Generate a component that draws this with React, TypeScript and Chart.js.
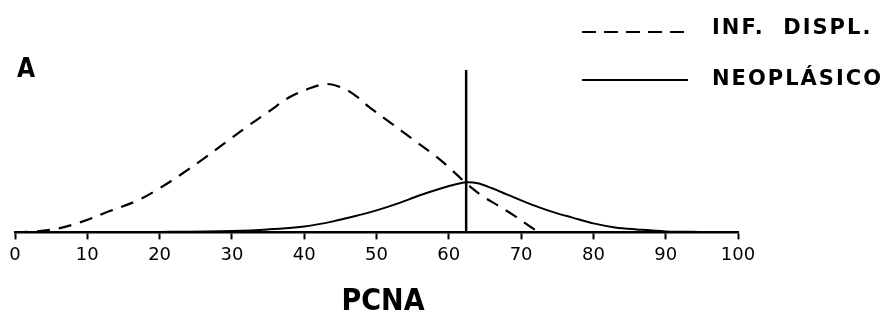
import React, { useEffect, useRef } from "react";
import { Chart, registerables } from "chart.js";

Chart.register(...registerables);

// PCNA distribution curves (x = PCNA %, y = relative frequency, arbitrary units)
const xTicks = [0, 10, 20, 30, 40, 50, 60, 70, 80, 90, 100];

const infDisplX = [0, 3, 6, 9, 13, 17, 20, 23, 26, 29, 32, 35, 38, 40.5, 43, 45, 47, 49, 52, 55, 58, 60, 62.4, 64.7, 67, 69, 71, 72.5];
const infDisplY = [0, 1, 4, 10, 21, 32, 44, 58, 73, 89, 105, 120, 135, 143, 148, 145, 137, 125, 109, 93, 77, 65, 49, 36, 26, 17, 7, 0];

const neoX = [0, 10, 20, 30, 35, 40, 44, 48, 50, 53, 56, 59, 61, 62.4, 64, 66, 68, 70, 72.5, 75, 77, 80, 83, 86, 90, 95, 100];
const neoY = [0, 0, 0.5, 1.5, 3, 6, 11, 18, 22, 29, 37, 44, 48, 50, 49, 44, 38, 32, 25, 19, 15, 9, 5, 3, 1, 0.5, 0];

const cutoffX = 62.4;
const cutoffTop = 162;

const legendLabels = ["INF.  DISPL.", "NEOPLÁSICO"];
const panelLabel = "A";
const axisTitle = "PCNA";

const toPts = (xs: number[], ys: number[]) => xs.map((x, i) => ({ x, y: ys[i] }));

const textPlugin = {
  id: "textPlugin",
  afterDraw(chart: any) {
    const ctx = chart.ctx as CanvasRenderingContext2D;
    ctx.save();
    ctx.fillStyle = "#000";
    ctx.strokeStyle = "#000";
    // panel letter
    ctx.font = "bold 26px 'DejaVu Sans Condensed'";
    ctx.textBaseline = "alphabetic";
    ctx.textAlign = "left";
    ctx.fillText(panelLabel, 17, 77);
    // legend
    ctx.lineWidth = 2;
    ctx.setLineDash([14, 8]);
    ctx.beginPath();
    ctx.moveTo(582, 32);
    ctx.lineTo(688, 32);
    ctx.stroke();
    ctx.setLineDash([]);
    ctx.beginPath();
    ctx.moveTo(582, 80);
    ctx.lineTo(688, 80);
    ctx.stroke();
    ctx.font = "bold 21px 'DejaVu Sans'";
    (ctx as any).letterSpacing = "2px";
    ctx.textBaseline = "middle";
    ctx.fillText(legendLabels[0], 712, 29);
    ctx.fillText(legendLabels[1], 712, 80);
    (ctx as any).letterSpacing = "0px";
    // axis title
    ctx.font = "bold 30px 'DejaVu Sans Condensed'";
    ctx.textAlign = "center";
    ctx.textBaseline = "middle";
    ctx.fillText(axisTitle, 383, 302);
    ctx.restore();
  },
};

export default function App() {
  const ref = useRef<HTMLCanvasElement | null>(null);
  useEffect(() => {
    if (!ref.current) return;
    const chart = new Chart(ref.current, {
      type: "line",
      data: {
        datasets: [
          {
            label: legendLabels[0],
            data: toPts(infDisplX, infDisplY),
            borderColor: "#000",
            borderWidth: 2.2,
            borderDash: [13, 9],
            pointRadius: 0,
            tension: 0.35,
            fill: false,
          },
          {
            label: legendLabels[1],
            data: toPts(neoX, neoY),
            borderColor: "#000",
            borderWidth: 2,
            pointRadius: 0,
            tension: 0.35,
            fill: false,
          },
          {
            label: "cutoff",
            data: [
              { x: cutoffX, y: 0 },
              { x: cutoffX, y: cutoffTop },
            ],
            borderColor: "#000",
            borderWidth: 2.5,
            pointRadius: 0,
            tension: 0,
            fill: false,
          },
        ],
      },
      options: {
        responsive: false,
        animation: false,
        layout: { padding: { left: 15, right: 154, top: 70, bottom: 56 } },
        plugins: { legend: { display: false }, tooltip: { enabled: false } },
        scales: {
          x: {
            type: "linear",
            min: 0,
            max: 100,
            afterBuildTicks: (axis: any) => {
              axis.ticks = xTicks.map((v) => ({ value: v }));
            },
            border: { display: true, color: "#000", width: 2.5 },
            grid: {
              drawOnChartArea: false,
              drawTicks: true,
              tickLength: 7,
              tickColor: "#000",
              tickWidth: 2,
            },
            ticks: {
              color: "#000",
              padding: 5,
              maxRotation: 0,
              font: { family: "'DejaVu Sans'", size: 18 },
            },
          },
          y: { display: false, min: 0, max: cutoffTop },
        },
      },
      plugins: [textPlugin],
    });
    return () => chart.destroy();
  }, []);
  return (
    <div style={{ position: "fixed", left: 0, top: 0, width: 892, height: 327, background: "#fff" }}>
      <canvas ref={ref} width={892} height={327} style={{ width: 892, height: 327 }} />
    </div>
  );
}
